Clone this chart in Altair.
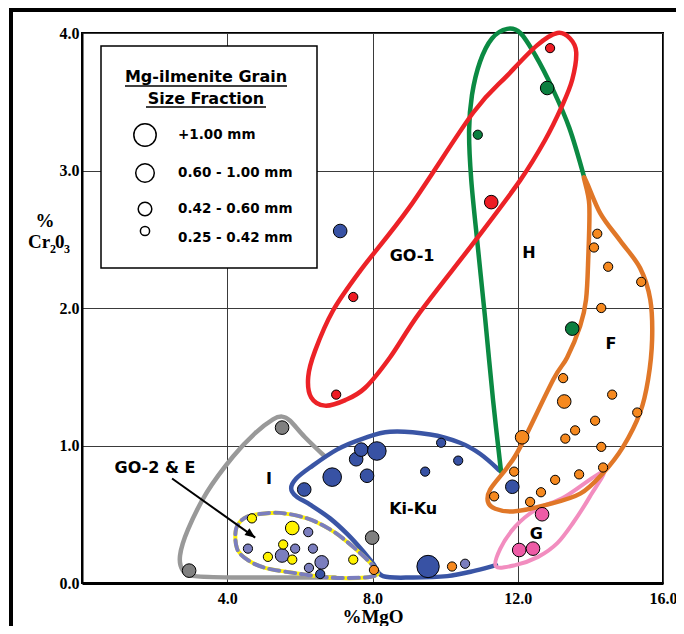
import altair as alt
import pandas as pd

# ---------------- data ----------------
# points: %MgO, %Cr2O3, grain-size class (1=0.25-0.42, 2=0.42-0.60, 3=0.60-1.00, 4=+1.00 mm)
go1_mgo = [12.89, 11.27, 7.47, 7.00]
go1_cr = [3.89, 2.77, 2.08, 1.37]
go1_cls = [1, 2, 1, 1]

h_mgo = [12.81, 10.90, 13.50]
h_cr = [3.60, 3.26, 1.85]
h_cls = [2, 1, 2]

f_mgo = [14.19, 14.10, 14.49, 15.40, 14.30, 13.25, 13.28, 14.60, 15.29, 14.13, 13.58, 13.31,
         12.12, 14.30, 13.69, 14.35, 13.03, 12.64, 12.34, 11.90, 11.35, 8.04, 10.19]
f_cr = [2.54, 2.44, 2.30, 2.19, 2.00, 1.49, 1.32, 1.37, 1.24, 1.18, 1.11, 1.05,
        1.06, 0.99, 0.79, 0.84, 0.75, 0.66, 0.59, 0.81, 0.63, 0.095, 0.12]
f_cls = [1, 1, 1, 1, 1, 1, 2, 1, 1, 1, 1, 1, 2, 1, 1, 1, 1, 1, 1, 1, 1, 1, 1]

kk_mgo = [7.11, 6.12, 6.89, 7.55, 7.69, 8.12, 7.85, 9.89, 10.36, 9.45, 9.53, 6.56, 11.85]
kk_cr = [2.56, 0.68, 0.77, 0.90, 0.97, 0.96, 0.78, 1.02, 0.89, 0.81, 0.12, 0.065, 0.70]
kk_cls = [2, 2, 3, 2, 2, 3, 2, 1, 1, 1, 4, 1, 2]

e_mgo = [10.55, 6.23, 5.87, 6.36, 5.51, 6.60, 6.25, 4.57]
e_cr = [0.14, 0.37, 0.25, 0.25, 0.20, 0.15, 0.11, 0.25]
e_cls = [1, 1, 1, 1, 2, 2, 1, 1]

go2_mgo = [4.68, 5.79, 5.54, 5.12, 5.79, 7.47]
go2_cr = [0.47, 0.40, 0.28, 0.19, 0.17, 0.17]
go2_cls = [1, 2, 1, 1, 1, 1]

i_mgo = [5.51, 2.95, 7.99]
i_cr = [1.13, 0.09, 0.33]
i_cls = [2, 2, 2]

g_mgo = [12.67, 12.04, 12.42]
g_cr = [0.50, 0.24, 0.25]
g_cls = [2, 2, 2]

# field outlines (%MgO, %Cr2O3)
go1_line_mgo = [13.09, 13.44, 13.61, 13.50, 13.22, 12.75, 12.07, 10.83, 9.31, 8.48, 7.80, 7.25,
                6.69, 6.31, 6.23, 6.42, 6.91, 7.66, 9.01, 10.77, 11.71, 12.53]
go1_line_cr = [4.00, 3.96, 3.86, 3.66, 3.47, 3.22, 2.93, 2.49, 1.97, 1.64, 1.42, 1.33,
               1.29, 1.35, 1.50, 1.69, 1.98, 2.27, 2.73, 3.42, 3.69, 3.91]

h_line_mgo = [11.54, 11.32, 11.10, 10.91, 10.72, 10.66, 10.74, 10.96, 11.29, 11.71, 12.07,
              12.48, 12.95, 13.42, 13.83]
h_line_cr = [0.81, 1.33, 1.93, 2.42, 2.93, 3.29, 3.55, 3.79, 3.96, 4.03, 4.00,
             3.84, 3.60, 3.31, 2.95]

f_line_mgo = [13.83, 13.97, 13.94, 13.88, 13.72, 13.36, 12.98, 12.07, 11.71, 11.24, 11.18, 11.38,
              11.87, 12.81, 13.72, 14.35, 14.90, 15.37, 15.59, 15.70, 15.65, 15.37, 14.82, 14.27]
f_line_cr = [2.95, 2.75, 2.35, 2.06, 1.87, 1.64, 1.48, 0.99, 0.84, 0.68, 0.59, 0.54,
             0.52, 0.57, 0.65, 0.80, 0.99, 1.24, 1.48, 1.77, 2.06, 2.29, 2.49, 2.69]

g_line_mgo = [14.35, 13.99, 13.53, 13.09, 12.56, 11.93, 11.40, 11.52, 11.93, 12.48, 13.31]
g_line_cr = [0.81, 0.63, 0.44, 0.29, 0.19, 0.13, 0.12, 0.25, 0.41, 0.53, 0.63]

kk_line_mgo = [11.49, 10.96, 10.41, 9.59, 8.48, 7.74, 7.02, 6.28, 5.90, 5.76, 5.90, 6.28, 6.83,
               7.33, 7.71, 8.02, 8.29, 9.12, 10.06, 10.83, 11.40]
kk_line_cr = [0.82, 0.94, 1.02, 1.08, 1.10, 1.05, 0.97, 0.84, 0.76, 0.69, 0.63, 0.57, 0.47,
              0.35, 0.24, 0.14, 0.05, 0.04, 0.05, 0.09, 0.13]

i_line_mgo = [6.69, 6.14, 5.73, 5.51, 5.26, 4.77, 4.16, 3.44, 2.92, 2.70, 2.78, 3.11, 4.35, 6.01, 6.97]
i_line_cr = [0.92, 1.06, 1.18, 1.21, 1.19, 1.09, 0.92, 0.66, 0.39, 0.20, 0.09, 0.05, 0.04, 0.04, 0.04]

go2_line_mgo = [4.24, 4.46, 4.85, 5.45, 6.20, 6.83, 7.30, 7.69, 7.96, 8.15, 7.80, 6.83, 5.92,
                5.04, 4.55, 4.27]
go2_line_cr = [0.39, 0.47, 0.50, 0.51, 0.47, 0.39, 0.30, 0.21, 0.14, 0.07, 0.04, 0.04, 0.07,
               0.11, 0.17, 0.25]

region_names = ["GO-1", "H", "F", "I", "Ki-Ku", "G", "GO-2 & E"]
region_mgo = [9.09, 12.31, 14.57, 5.15, 9.12, 12.51, 2.01]
region_cr = [2.38, 2.40, 1.74, 0.76, 0.54, 0.36, 0.84]

arrow_from = [2.48, 0.76]
arrow_to = [4.77, 0.33]

x_ticks = [4, 8, 12, 16]
y_ticks = [0, 1, 2, 3, 4]

legend_title = ["Mg-ilmenite Grain", "Size Fraction"]
legend_labels = ["+1.00 mm", "0.60 - 1.00 mm", "0.42 - 0.60 mm", "0.25 - 0.42 mm"]
legend_classes = [4, 3, 2, 1]

# ---------------- styling ----------------
SIZE_RANGE = [85, 185, 345, 500]
serif = "Liberation Serif"
sans = "DejaVu Sans"

groups = ["GO-1", "H", "F", "Ki-Ku", "E", "GO-2", "I", "G"]
fills = ["#ED1C24", "#0B7F3F", "#F6891F", "#3852A4", "#7B7EBE", "#FFF200", "#808080", "#EE5BA6"]

xs = alt.Scale(domain=[0, 16], nice=False, zero=False)
ys = alt.Scale(domain=[0, 4], nice=False, zero=False)

xaxis = alt.Axis(values=x_ticks, format=".1f", grid=True, gridColor="#3a3a3a", gridWidth=1,
                 ticks=False, domain=True, domainColor="black", domainWidth=3,
                 labelFont=serif, labelFontWeight="bold", labelFontSize=16, labelColor="black",
                 labelPadding=7, labelFlush=False,
                 title="%MgO", titleFont=serif, titleFontWeight="bold", titleFontSize=19,
                 titleColor="black", titlePadding=1)
yaxis = alt.Axis(values=y_ticks, format=".1f", grid=True, gridColor="#3a3a3a", gridWidth=1,
                 ticks=False, domain=True, domainColor="black", domainWidth=2,
                 labelFont=serif, labelFontWeight="bold", labelFontSize=16, labelColor="black",
                 labelPadding=3, title="")


def X():
    return alt.X("x:Q", scale=xs, axis=xaxis)


def Y():
    return alt.Y("y:Q", scale=ys, axis=yaxis)


def outline(xv, yv, color, closed, width=4.5, dash=None):
    df = pd.DataFrame({"x": xv, "y": yv, "i": list(range(len(xv)))})
    kw = dict(interpolate="cardinal-closed" if closed else "cardinal", color=color,
              strokeWidth=width, strokeCap="round", strokeJoin="round")
    if dash:
        kw["strokeDash"] = dash
    return alt.Chart(df).mark_line(**kw).encode(x=X(), y=Y(), order="i:Q")


one = pd.DataFrame({"a": [0]})
layers = []

# outer figure frame
layers.append(alt.Chart(one).mark_rule(color="black", strokeWidth=4).encode(
    x=alt.value(-71), y=alt.value(-25), y2=alt.value(610)))
layers.append(alt.Chart(one).mark_rule(color="black", strokeWidth=4).encode(
    x=alt.value(-73), x2=alt.value(620), y=alt.value(-23)))

# outlines
layers.append(outline(i_line_mgo, i_line_cr, "#999999", False))
layers.append(outline(kk_line_mgo, kk_line_cr, "#3A55A5", False))
layers.append(outline(go2_line_mgo, go2_line_cr, "#FFF200", True, width=4))
layers.append(outline(go2_line_mgo, go2_line_cr, "#7B7EBE", True, width=4, dash=[10, 6]))
layers.append(outline(h_line_mgo, h_line_cr, "#0B8A43", False))
layers.append(outline(go1_line_mgo, go1_line_cr, "#EC2227", True))
layers.append(outline(g_line_mgo, g_line_cr, "#F28DBF", True, width=4))
layers.append(outline(f_line_mgo, f_line_cr, "#E07728", True))

# points
def grp(name, xv, yv, cv):
    return pd.DataFrame({"x": xv, "y": yv, "cls": [str(c) for c in cv], "group": name})


pts = pd.concat([
    grp("I", i_mgo, i_cr, i_cls),
    grp("Ki-Ku", kk_mgo, kk_cr, kk_cls),
    grp("E", e_mgo, e_cr, e_cls),
    grp("GO-2", go2_mgo, go2_cr, go2_cls),
    grp("H", h_mgo, h_cr, h_cls),
    grp("GO-1", go1_mgo, go1_cr, go1_cls),
    grp("G", g_mgo, g_cr, g_cls),
    grp("F", f_mgo, f_cr, f_cls),
], ignore_index=True)

layers.append(alt.Chart(pts).mark_circle(opacity=1, stroke="black", strokeWidth=1).encode(
    x=X(), y=Y(),
    color=alt.Color("group:N", scale=alt.Scale(domain=groups, range=fills), legend=None),
    size=alt.Size("cls:N", scale=alt.Scale(type="ordinal", domain=["1", "2", "3", "4"],
                                           range=SIZE_RANGE), legend=None),
))

# region labels
lab = pd.DataFrame({"x": region_mgo, "y": region_cr, "t": region_names})
layers.append(alt.Chart(lab).mark_text(font=sans, fontWeight="bold", fontSize=16, color="black",
                                       align="center", baseline="middle").encode(
    x=X(), y=Y(), text="t:N"))

# arrow
arr = pd.DataFrame({"x": [arrow_from[0]], "y": [arrow_from[1]],
                    "x2": [arrow_to[0]], "y2": [arrow_to[1]]})
layers.append(alt.Chart(arr).mark_rule(color="black", strokeWidth=2).encode(
    x=X(), y=Y(), x2="x2:Q", y2="y2:Q"))
head = pd.DataFrame({"x": [arrow_to[0]], "y": [arrow_to[1]]})
layers.append(alt.Chart(head).mark_point(shape="M0,0L-0.7,1.7L0.7,1.7Z", filled=True, color="black",
                                         opacity=1, size=144, angle=126).encode(x=X(), y=Y()))

# legend box (pixel layout inside plot area)
layers.append(alt.Chart(one).mark_rect(fill="white", stroke="black", strokeWidth=1.5).encode(
    x=alt.value(19), x2=alt.value(235), y=alt.value(13), y2=alt.value(235)))
title_y = [49, 71]
ul = [(43, 205, 53), (64, 184, 74)]
for t, ty, (u1, u2, uy) in zip(legend_title, title_y, ul):
    layers.append(alt.Chart(one).mark_text(text=t, font=sans, fontWeight="bold", fontSize=16,
                                           color="black", align="center", baseline="alphabetic").encode(
        x=alt.value(124), y=alt.value(ty)))
    layers.append(alt.Chart(one).mark_rule(color="black", strokeWidth=1.5).encode(
        x=alt.value(u1), x2=alt.value(u2), y=alt.value(uy)))
circ_y = [102, 140, 176, 198]
lab_y = [102, 140, 176, 205]
for t, c, cy, ly in zip(legend_labels, legend_classes, circ_y, lab_y):
    layers.append(alt.Chart(one).mark_circle(fill="white", stroke="black", strokeWidth=1.5,
                                             opacity=1, size=SIZE_RANGE[c - 1]).encode(
        x=alt.value(63), y=alt.value(cy)))
    layers.append(alt.Chart(one).mark_text(text=t, font=sans, fontWeight="bold", fontSize=13.5,
                                           color="black", align="left", baseline="middle").encode(
        x=alt.value(96), y=alt.value(ly)))

# y-axis title "% Cr2 03" with subscripts
ytitle = [("%", -37, 194, 19, "center"), ("Cr", -54, 215, 19, "left"), ("2", -32, 220, 12, "left"),
          ("0", -27, 215, 19, "left"), ("3", -18, 220, 12, "left")]
for t, tx, ty, fs, al in ytitle:
    layers.append(alt.Chart(one).mark_text(text=t, font=serif, fontWeight="bold", fontSize=fs,
                                           color="black", align=al, baseline="alphabetic").encode(
        x=alt.value(tx), y=alt.value(ty)))

chart = alt.layer(*layers).properties(
    width=581, height=550, autosize="none",
    padding={"left": 74, "top": 25, "right": 13, "bottom": 43},
).configure_view(stroke="black", strokeWidth=2)

chart.save("out.html", embed_options={"renderer": "svg", "actions": False})
